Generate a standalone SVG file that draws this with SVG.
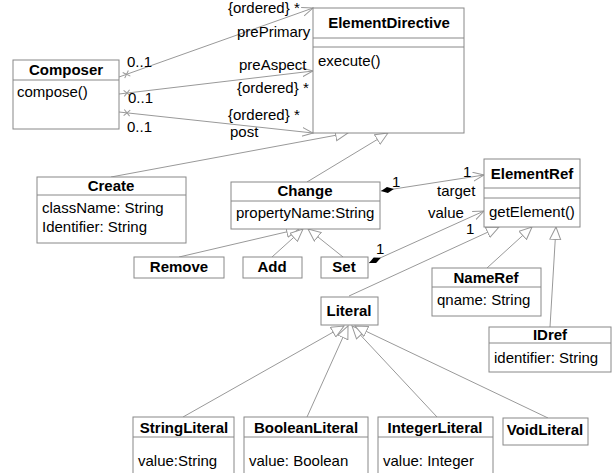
<svg xmlns="http://www.w3.org/2000/svg" width="612" height="473" viewBox="0 0 612 473">
<style>
  text { font-family: "Liberation Sans", Arial, sans-serif; font-size: 15px; fill: #000; }
  .b { font-weight: bold; text-anchor: middle; }
  .box { fill: #fff; stroke: #888; stroke-width: 1; }
  .sep { stroke: #888; stroke-width: 1; }
  .c line { stroke: #999; stroke-width: 1; fill: none; }
  .nav { marker-end: url(#open); }
  .gen { marker-end: url(#tri); }
  .x { marker-start: url(#cross); }
  .comp { marker-start: url(#dia); }
</style>
<defs>
  <marker id="open" markerUnits="userSpaceOnUse" markerWidth="14" markerHeight="12" refX="11" refY="5" orient="auto">
    <path d="M0,0.5 L11,5 L0,9.5" fill="none" stroke="#999" stroke-width="1"/>
  </marker>
  <marker id="tri" markerUnits="userSpaceOnUse" markerWidth="15" markerHeight="14" refX="13" refY="6" orient="auto">
    <path d="M0.5,0.5 L13,6 L0.5,11.5 Z" fill="#fff" stroke="#999" stroke-width="1"/>
  </marker>
  <marker id="dia" markerUnits="userSpaceOnUse" markerWidth="15" markerHeight="8" refX="0" refY="3.5" orient="auto">
    <path d="M0,3.5 L6.5,0.5 L13,3.5 L6.5,6.5 Z" fill="#000"/>
  </marker>
  <marker id="cross" markerUnits="userSpaceOnUse" markerWidth="16" markerHeight="10" refX="0" refY="5" orient="auto">
    <path d="M5,2 L11,8 M5,8 L11,2" fill="none" stroke="#999" stroke-width="1"/>
  </marker>
</defs>

<g id="connectors" class="c">
  <line class="x nav" x1="119" y1="77" x2="313" y2="8"/>
  <line class="x nav" x1="119" y1="94" x2="313" y2="71"/>
  <line class="x nav" x1="119" y1="112" x2="313" y2="133"/>
  <line class="gen" x1="111" y1="177" x2="348" y2="133"/>
  <line class="gen" x1="307" y1="182" x2="388" y2="133"/>
  <line class="gen" x1="179" y1="257" x2="299" y2="229"/>
  <line class="gen" x1="272" y1="257" x2="303" y2="229"/>
  <line class="gen" x1="343" y1="257" x2="308" y2="229"/>
  <line class="comp nav" x1="381" y1="191" x2="484" y2="175"/>
  <line class="comp nav" x1="369" y1="263" x2="484" y2="211"/>
  <line class="gen" x1="349" y1="296" x2="499" y2="227"/>
  <line class="gen" x1="487" y1="268" x2="532" y2="227"/>
  <line class="gen" x1="550" y1="327" x2="556" y2="227"/>
  <line class="gen" x1="183" y1="417" x2="344" y2="326"/>
  <line class="gen" x1="307" y1="417" x2="348" y2="326"/>
  <line class="gen" x1="437" y1="417" x2="352" y2="326"/>
  <line class="gen" x1="548" y1="418" x2="355" y2="326"/>
</g>

<g id="labels">
  <text x="228" y="13">{ordered} *</text>
  <text x="237" y="37">prePrimary</text>
  <text x="127" y="67">0..1</text>
  <text x="239" y="70">preAspect</text>
  <text x="237" y="93">{ordered} *</text>
  <text x="128" y="103">0..1</text>
  <text x="228" y="120">{ordered} *</text>
  <text x="230" y="137">post</text>
  <text x="127" y="132">0..1</text>
  <text x="392" y="187">1</text>
  <text x="463" y="177">1</text>
  <text x="437" y="196">target</text>
  <text x="428" y="218">value</text>
  <text x="466" y="234">1</text>
  <text x="376" y="254">1</text>
</g>

<g id="Composer">
  <rect class="box" x="13" y="60" width="106" height="69"/>
  <line class="sep" x1="13" y1="80" x2="119" y2="80"/>
  <text class="b" x="66" y="75">Composer</text>
  <text x="17" y="97">compose()</text>
</g>

<g id="ElementDirective">
  <rect class="box" x="313" y="8" width="151" height="125"/>
  <line class="sep" x1="313" y1="38" x2="464" y2="38"/>
  <line class="sep" x1="313" y1="47" x2="464" y2="47"/>
  <text class="b" x="389" y="28">ElementDirective</text>
  <text x="318" y="66">execute()</text>
</g>

<g id="Create">
  <rect class="box" x="37" y="177" width="149" height="66"/>
  <line class="sep" x1="37" y1="195" x2="186" y2="195"/>
  <text class="b" x="111" y="191">Create</text>
  <text x="42" y="213">className: String</text>
  <text x="42" y="232">Identifier: String</text>
</g>

<g id="Change">
  <rect class="box" x="231" y="182" width="149" height="47"/>
  <line class="sep" x1="231" y1="201" x2="380" y2="201"/>
  <text class="b" x="305" y="196">Change</text>
  <text x="236" y="218">propertyName:String</text>
</g>

<g id="Remove">
  <rect class="box" x="134" y="257" width="90" height="21"/>
  <text class="b" x="179" y="272">Remove</text>
</g>

<g id="Add">
  <rect class="box" x="243" y="257" width="59" height="21"/>
  <text class="b" x="272" y="272">Add</text>
</g>

<g id="Set">
  <rect class="box" x="321" y="257" width="47" height="21"/>
  <text class="b" x="344" y="272">Set</text>
</g>

<g id="ElementRef">
  <rect class="box" x="484" y="159" width="96" height="68"/>
  <line class="sep" x1="484" y1="188" x2="580" y2="188"/>
  <line class="sep" x1="484" y1="198" x2="580" y2="198"/>
  <text class="b" x="532" y="179">ElementRef</text>
  <text x="489" y="217">getElement()</text>
</g>

<g id="NameRef">
  <rect class="box" x="432" y="268" width="109" height="48"/>
  <line class="sep" x1="432" y1="287" x2="541" y2="287"/>
  <text class="b" x="486" y="283">NameRef</text>
  <text x="437" y="305">qname: String</text>
</g>

<g id="Literal">
  <rect class="box" x="321" y="297" width="57" height="28"/>
  <text class="b" x="349" y="316">Literal</text>
</g>

<g id="IDref">
  <rect class="box" x="489" y="327" width="122" height="45"/>
  <line class="sep" x1="489" y1="343" x2="611" y2="343"/>
  <text class="b" x="550" y="340">IDref</text>
  <text x="494" y="363">identifier: String</text>
</g>

<g id="StringLiteral">
  <rect class="box" x="133" y="417" width="101" height="70"/>
  <line class="sep" x1="133" y1="437" x2="234" y2="437"/>
  <text class="b" x="184" y="433">StringLiteral</text>
  <text x="138" y="466">value:String</text>
</g>

<g id="BooleanLiteral">
  <rect class="box" x="244" y="417" width="124" height="70"/>
  <line class="sep" x1="244" y1="437" x2="368" y2="437"/>
  <text class="b" x="306" y="433">BooleanLiteral</text>
  <text x="249" y="466">value: Boolean</text>
</g>

<g id="IntegerLiteral">
  <rect class="box" x="378" y="417" width="115" height="70"/>
  <line class="sep" x1="378" y1="437" x2="493" y2="437"/>
  <text class="b" x="435" y="433">IntegerLiteral</text>
  <text x="383" y="466">value: Integer</text>
</g>

<g id="VoidLiteral">
  <rect class="box" x="503" y="418" width="85" height="27"/>
  <text class="b" x="545" y="435">VoidLiteral</text>
</g>
</svg>
